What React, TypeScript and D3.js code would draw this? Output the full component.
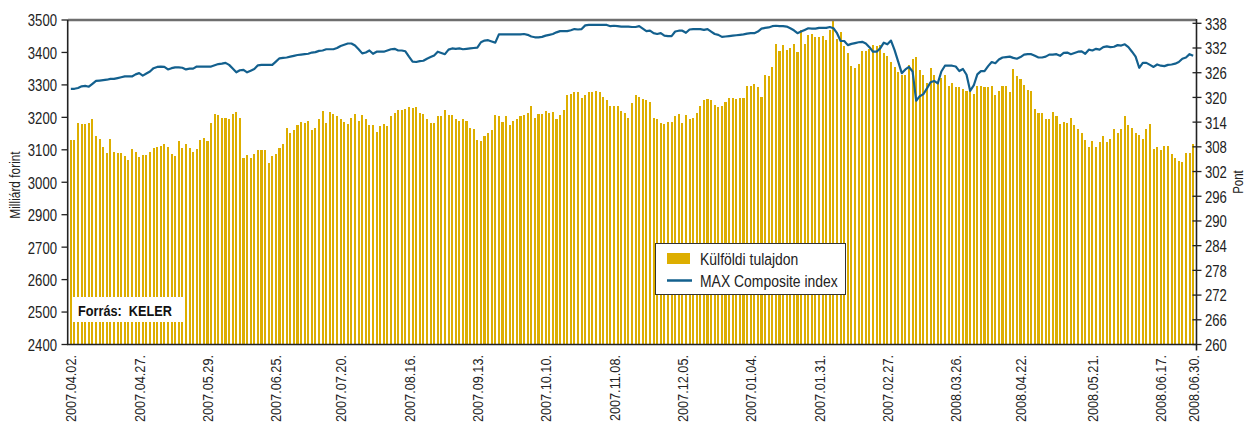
import React from 'react';
import * as d3 from 'd3';

// Külföldi tulajdon (milliárd forint), one bar per trading day, 2007.04.02 – 2008.06.30
const foreignHoldings = [
  3129, 3129, 3184, 3181, 3178, 3184, 3196, 3141, 3132, 3110,
  3089, 3132, 3092, 3089, 3089, 3080, 3068, 3101, 3092, 3077,
  3083, 3083, 3092, 3107, 3110, 3113, 3117, 3110, 3086, 3080,
  3126, 3107, 3117, 3107, 3092, 3101, 3129, 3135, 3126, 3184,
  3209, 3206, 3199, 3199, 3196, 3209, 3215, 3199, 3074, 3083,
  3074, 3086, 3098, 3098, 3098, 3058, 3080, 3086, 3107, 3117,
  3166, 3153,
  3160, 3175, 3187, 3184, 3190, 3160, 3166, 3196, 3221, 3184,
  3215, 3209, 3203, 3196, 3187, 3178, 3199, 3209, 3190, 3206,
  3196, 3175, 3175, 3156, 3172, 3178, 3172, 3203, 3212, 3224,
  3224, 3227, 3233, 3230, 3233, 3212, 3209, 3196, 3184, 3184,
  3203, 3203, 3224, 3206, 3206, 3196, 3190, 3196, 3190, 3166,
  3163, 3129, 3126, 3141, 3153, 3160, 3206, 3203, 3187, 3203,
  3175, 3190, 3196, 3203,
  3206, 3212, 3236, 3199, 3209, 3209, 3221, 3212, 3215, 3196,
  3206, 3224, 3270, 3273, 3279, 3279, 3261, 3270, 3279, 3279,
  3282, 3279, 3264, 3252, 3236, 3236, 3236, 3221, 3212, 3199,
  3245, 3270, 3264, 3258, 3255, 3248, 3199, 3196, 3184, 3181,
  3187, 3187, 3203, 3209, 3184, 3206, 3196, 3199, 3212, 3236,
  3255, 3258, 3255, 3239, 3233, 3236, 3248, 3261, 3261, 3258,
  3261, 3261, 3298,
  3298, 3304, 3295, 3264, 3331, 3328, 3356, 3426, 3405, 3423,
  3408, 3414, 3426, 3402, 3469, 3426, 3454, 3457, 3448, 3448,
  3451, 3439, 3469, 3500, 3440, 3462, 3420, 3399, 3359, 3353,
  3365, 3405, 3405, 3411, 3423, 3420, 3423, 3399, 3389, 3371,
  3356, 3341, 3331, 3331, 3362, 3380, 3386, 3347, 3331, 3307,
  3353, 3331, 3307, 3322, 3331, 3298, 3307, 3295, 3295, 3288,
  3282, 3285, 3273, 3298,
  3298, 3295, 3295, 3298, 3270, 3282, 3298, 3298, 3279, 3350,
  3328, 3319, 3301, 3285, 3282, 3227, 3212, 3212, 3196, 3196,
  3215, 3203, 3178, 3187, 3184, 3199, 3175, 3163, 3153, 3129,
  3110, 3126, 3110, 3123, 3141, 3123, 3132, 3163, 3153, 3163,
  3203, 3175, 3166, 3153, 3147, 3132, 3163, 3178, 3101, 3110,
  3098, 3113, 3113, 3086, 3074, 3064, 3061, 3089, 3089, 3117,
];

// MAX Composite index (pont), same days
const maxIndex = [
  322.1, 322.1, 322.3, 322.7, 322.8, 322.6, 323.3, 324.0, 324.1, 324.2,
  324.3, 324.5, 324.5, 324.7, 324.9, 325.1, 325.1, 325.1, 325.6, 325.9,
  325.3, 325.8, 326.3, 327.1, 327.4, 327.5, 327.4, 326.8, 327.1, 327.3,
  327.3, 327.2, 326.8, 327.0, 327.0, 327.5, 327.5, 327.5, 327.5, 327.5,
  327.8, 328.1, 328.2, 328.4, 327.9, 327.0, 326.1, 326.6, 326.7, 326.1,
  326.5, 326.9, 327.8, 327.9, 327.9, 327.9, 327.9, 328.7, 329.5, 329.6,
  329.7, 329.9,
  330.1, 330.3, 330.4, 330.5, 330.6, 330.9, 331.0, 331.3, 331.4, 331.7,
  331.7, 331.7, 332.0, 332.5, 332.8, 333.1, 333.1, 332.6, 331.7, 330.7,
  330.9, 331.4, 330.6, 331.1, 331.1, 331.1, 331.4, 331.7, 331.8, 331.4,
  331.4, 331.2, 329.9, 328.7, 328.6, 328.8, 328.9, 329.4, 329.8, 330.2,
  331.1, 330.8, 330.5, 331.6, 331.9, 331.8, 331.9, 331.7, 331.8, 331.9,
  332.0, 332.1, 333.4, 333.8, 333.9, 333.6, 333.3, 335.3, 335.3, 335.3,
  335.3, 335.3, 335.3, 335.3,
  335.4, 335.2, 334.8, 334.6, 334.6, 334.7, 335.0, 335.2, 335.4, 335.8,
  336.1, 336.1, 336.1, 336.3, 336.6, 336.5, 336.6, 337.5, 337.6, 337.6,
  337.6, 337.6, 337.6, 337.6, 337.3, 337.4, 337.3, 337.2, 337.2, 337.2,
  337.1, 337.1, 337.3, 336.7, 336.1, 336.2, 335.6, 335.4, 335.6, 335.0,
  334.9, 334.9, 336.0, 336.2, 336.2, 335.7, 336.5, 336.6, 336.6, 336.6,
  336.4, 336.6, 336.0, 335.4, 335.2, 334.7, 334.8, 334.9, 335.0, 335.1,
  335.2, 335.3, 335.5,
  335.6, 335.6, 336.0, 336.7, 336.9, 337.0, 337.3, 337.4, 337.3, 337.3,
  337.2, 336.8, 336.3, 335.6, 336.0, 336.4, 336.8, 336.7, 336.7, 336.9,
  336.9, 336.9, 337.1, 336.8, 335.6, 333.7, 333.7, 332.7, 333.0, 333.2,
  333.4, 333.5, 333.1, 332.2, 331.1, 331.1, 331.9, 333.3, 332.9, 333.8,
  331.5, 328.7, 325.9, 326.8, 327.4, 326.3, 319.2, 320.3, 320.8, 322.2,
  323.7, 324.0, 323.4, 326.3, 327.7, 327.7, 327.7, 327.5, 326.4, 326.9,
  325.5, 321.6, 322.9, 325.6,
  326.4, 326.4, 327.6, 328.6, 328.3, 329.2, 329.7, 329.8, 329.9, 329.6,
  329.4, 329.8, 330.4, 330.5, 330.5, 330.1, 329.7, 329.7, 329.9, 330.4,
  330.4, 330.5, 330.1, 330.8, 330.9, 330.5, 330.8, 331.1, 331.2, 330.6,
  331.6, 331.4, 331.8, 331.6, 332.2, 332.4, 332.2, 332.3, 332.7, 332.6,
  332.9, 332.2, 331.1, 329.9, 327.2, 328.4, 328.4, 327.9, 327.4, 328.0,
  327.7, 327.6, 327.9, 328.0, 328.2, 328.6, 329.4, 329.7, 330.5, 330.1,
];

// date labels on the x axis and the trading day they sit on
const dateLabels = [
  '2007.04.02.', '2007.04.27.', '2007.05.29.', '2007.06.25.', '2007.07.20.',
  '2007.08.16.', '2007.09.13.', '2007.10.10.', '2007.11.08.', '2007.12.05.',
  '2007.01.04.', '2007.01.31.', '2007.02.27.', '2008.03.26.', '2008.04.22.',
  '2008.05.21.', '2008.06.17.', '2008.06.30.',
];
const dateLabelDay = [0, 19, 38, 57, 75, 94, 113, 132, 151, 170, 189, 208, 227, 246, 264, 284, 303, 312];

// left axis labels as printed (the original skips 2800)
const leftTickLabels = ['3500', '3400', '3300', '3200', '3100', '3000', '2900', '2700', '2600', '2500', '2400'];
const rightTicks = [338, 332, 326, 320, 314, 308, 302, 296, 290, 284, 278, 272, 266, 260];

const W = 1245;
const H = 423;
const plotLeft = 68;
const plotRight = 1196;
const plotTop = 20;
const plotBottom = 344.5;

const barColor = '#ddae00';
const lineColor = '#13608e';
const font = '"Liberation Sans", Arial, sans-serif';
const narrow = 0.82; // squeeze Liberation Sans to a condensed look

// condensed text: translate, optional rotate, then squeeze along the text direction
const NText = ({ x, y, rotate = 0, anchor = 'start', size, bold = false, dy, children, fill = '#222' }: any) => (
  <text transform={`translate(${x},${y}) rotate(${rotate}) scale(${narrow},1)`} textAnchor={anchor}
    dy={dy} fontSize={size} fontWeight={bold ? 'bold' : 'normal'} fill={fill}
    style={{ whiteSpace: 'pre' }}>{children}</text>
);

const App = () => {
  const days = foreignHoldings.map((_, i) => i);

  const x = d3.scaleBand<number>()
    .domain(days)
    .range([plotLeft, plotRight])
    .paddingInner(0.42)
    .paddingOuter(0.5);
  const cx = (i: number) => (x(i) as number) + x.bandwidth() / 2;

  // printed axis steps 100 per label from the top
  const yLeft = d3.scaleLinear().domain([2500, 3500]).range([plotBottom, plotTop]);
  const leftTickY = d3.scalePoint<string>().domain(leftTickLabels).range([plotTop, plotBottom]);
  const yRight = d3.scaleLinear().domain([260, 338]).range([plotBottom, 23.3]);

  const line = d3.line<number>()
    .x((_, i) => cx(i))
    .y(d => yRight(d));

  return (
    <svg width={W} height={H} style={{ position: 'absolute', left: 0, top: 0, background: '#fff' }}
      fontFamily={font}>
      {/* bars */}
      <g shapeRendering="crispEdges">
        {foreignHoldings.map((v, i) => (
          <rect key={i} x={x(i)} y={yLeft(v)} width={x.bandwidth()}
            height={plotBottom - yLeft(v)} fill={barColor} />
        ))}
      </g>

      {/* top frame line */}
      <line x1={plotLeft} x2={plotRight} y1={plotTop} y2={plotTop} stroke="#6e6e6e" strokeWidth={2.5} />

      {/* index line */}
      <path d={line(maxIndex) || ''} fill="none" stroke={lineColor} strokeWidth={2.2}
        strokeLinejoin="round" />

      {/* left axis */}
      <line x1={plotLeft - 0.3} x2={plotLeft - 0.3} y1={plotTop} y2={plotBottom} stroke="#222" strokeWidth={1.6} />
      {leftTickLabels.map(t => (
        <g key={t}>
          <line x1={61.5} x2={plotLeft} y1={leftTickY(t)} y2={leftTickY(t)} stroke="#222" strokeWidth={1.3} />
          <NText x={57} y={leftTickY(t)} anchor="end" dy="0.4em" size={16}>{t}</NText>
        </g>
      ))}
      <NText x={15} y={185} rotate={-90} anchor="middle" dy="0.35em" size={14.5}>Milliárd forint</NText>

      {/* bottom axis */}
      <line x1={plotLeft - 1} x2={plotRight} y1={plotBottom} y2={plotBottom} stroke="#222" strokeWidth={1.6} />
      {dateLabels.map((t, k) => (
        <NText key={t} x={cx(dateLabelDay[k])} y={355} rotate={-90} anchor="end" dy="0.36em" size={15.5}>{t}</NText>
      ))}

      {/* right axis */}
      <line x1={plotRight + 0.5} x2={plotRight + 0.5} y1={plotTop - 1} y2={plotBottom + 6} stroke="#222" strokeWidth={1.6} />
      {rightTicks.map(t => (
        <g key={t}>
          <line x1={plotRight - 3.5} x2={plotRight + 5.5} y1={yRight(t)} y2={yRight(t)} stroke="#222" strokeWidth={1.3} />
          <NText x={1205} y={yRight(t)} dy="0.4em" size={16}>{t}</NText>
        </g>
      ))}
      <NText x={1238} y={182} rotate={-90} anchor="middle" dy="0.35em" size={14}>Pont</NText>

      {/* source note */}
      <rect x={72} y={297} width={111} height={25} fill="#fff" />
      <NText x={78} y={316} size={15.5} bold fill="#111">Forrás:  KELER</NText>

      {/* legend */}
      <g>
        <rect x={655.5} y={243.5} width={190} height={51} fill="#fff" stroke="#333" strokeWidth={1} />
        <rect x={667} y={253} width={23} height={11} fill={barColor} />
        <NText x={700} y={264.5} size={17}>Külföldi tulajdon</NText>
        <line x1={667} x2={692} y1={280.5} y2={280.5} stroke={lineColor} strokeWidth={2.5} />
        <NText x={700} y={286.5} size={17}>MAX Composite index</NText>
      </g>
    </svg>
  );
};

export default App;
